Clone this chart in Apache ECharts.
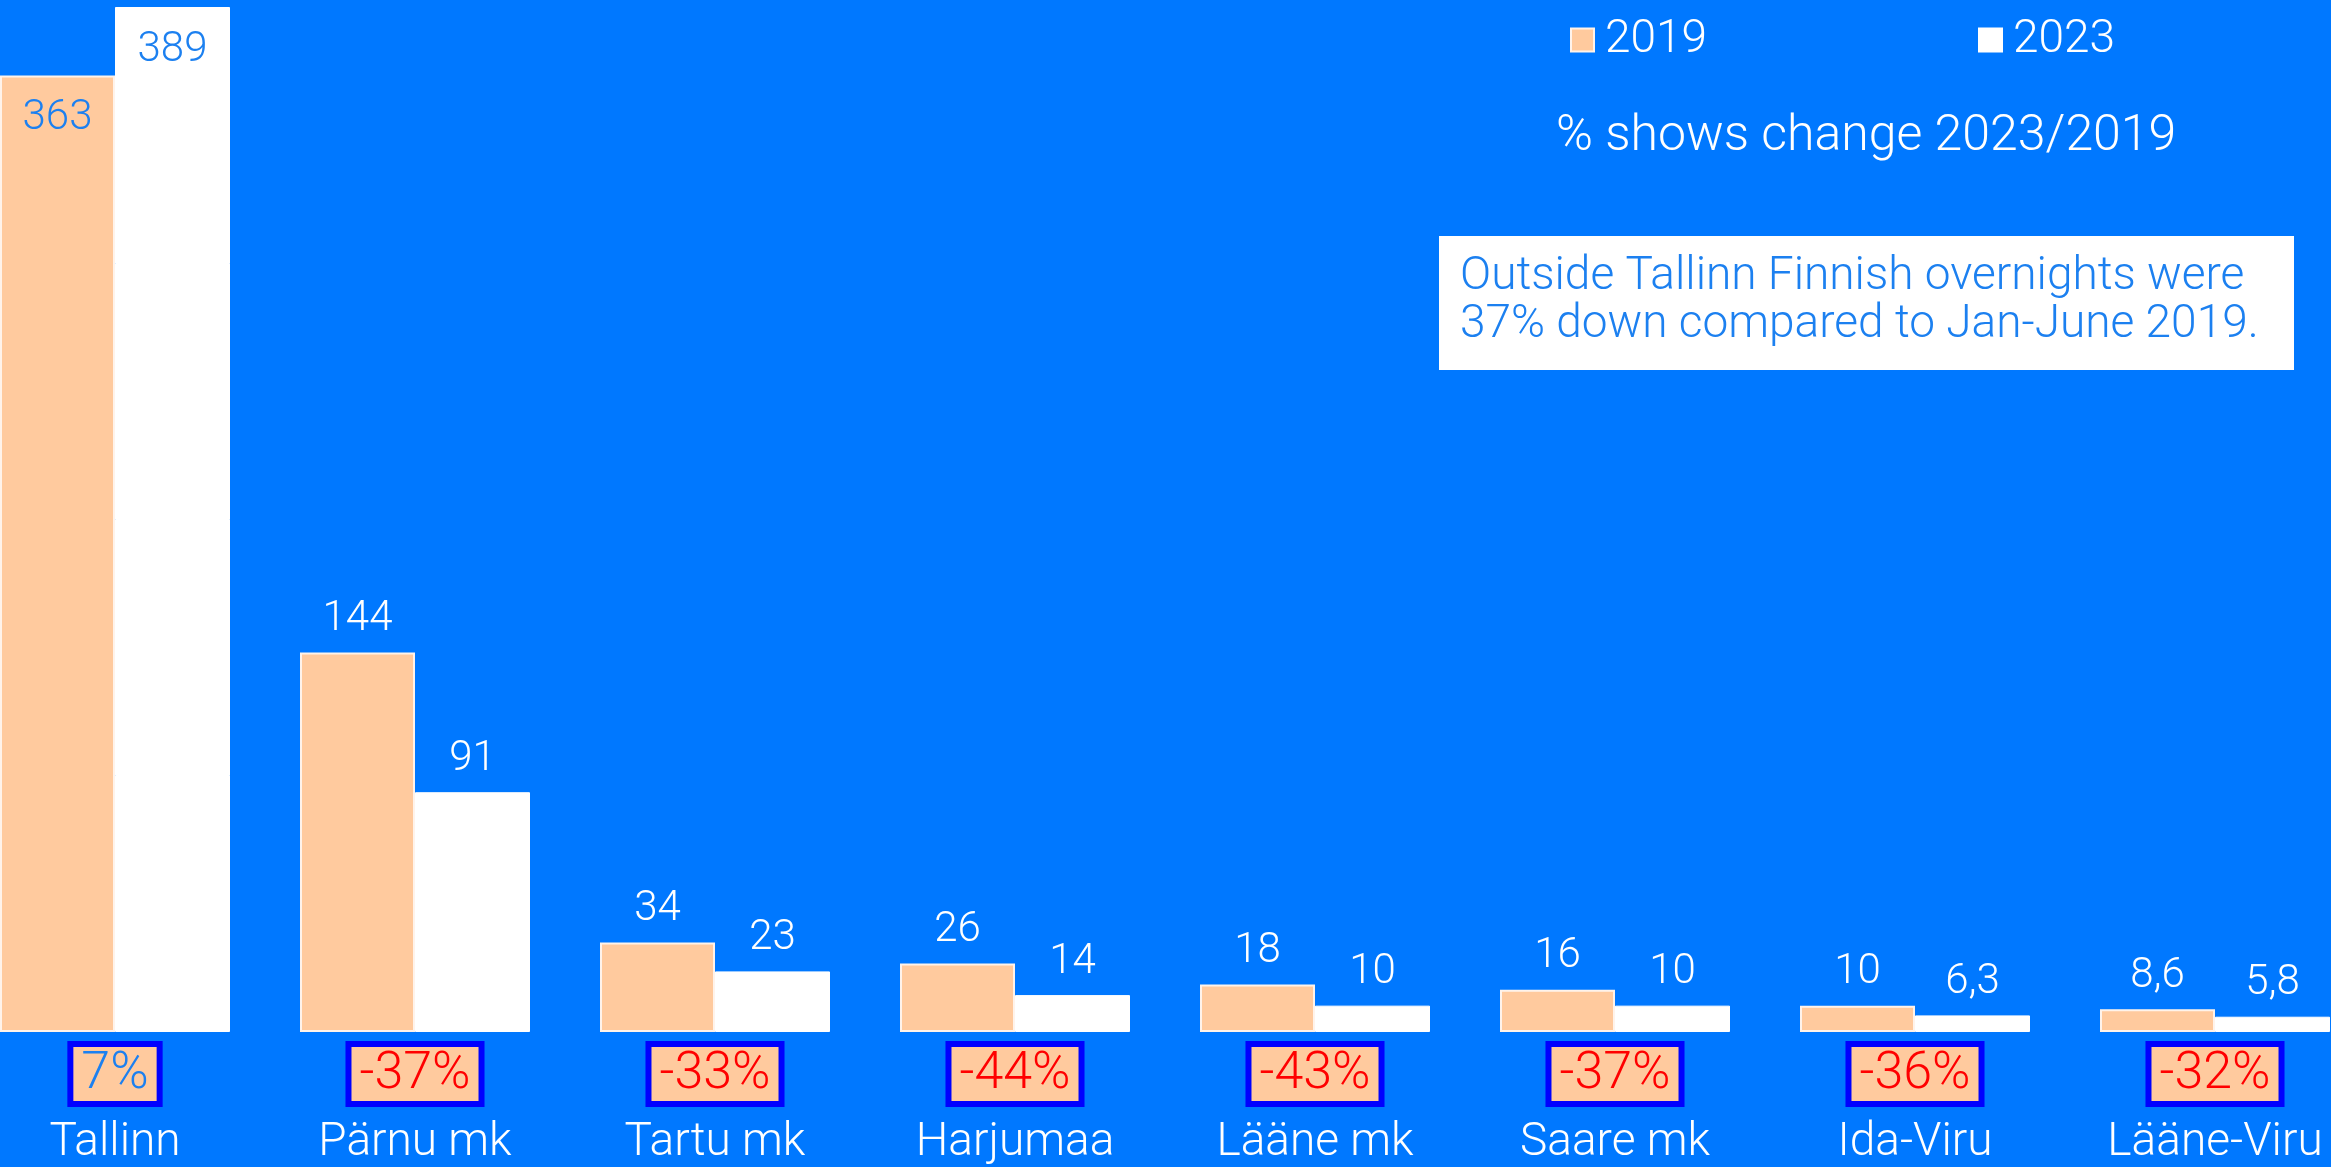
<!DOCTYPE html>
<html>
<head>
<meta charset="utf-8">
<script src="https://cdn.jsdelivr.net/npm/echarts@6/dist/echarts.min.js"></script>
<style>
html,body{margin:0;padding:0;background:#0078FF;overflow:hidden;width:2331px;height:1167px;position:relative;}
#chart{position:absolute;left:-35px;top:0;width:2400px;height:1167px;}
</style>
</head>
<body>
<div id="chart"></div>
<script>
const categories = ['Tallinn', 'Pärnu mk', 'Tartu mk', 'Harjumaa', 'Lääne mk', 'Saare mk', 'Ida-Viru', 'Lääne-Viru'];
const values2019 = [363, 144, 34, 26, 18, 16, 10, 8.6];
const values2023 = [389, 91, 23, 14, 10, 10, 6.3, 5.8];
const changePct = [7, -37, -33, -44, -43, -37, -36, -32];
const seriesNames = ['2019', '2023'];
const noteText = '% shows change 2023/2019';
const boxText = ['Outside Tallinn Finnish overnights were', '37% down compared to Jan-June 2019.'];

const FONT = 'Roboto';
const BG = '#0078FF';
const PEACH = '#FFCA9E';
const LABEL_BLUE = '#1C80F0';
const OFF = 35; // chart canvas is shifted left by this many px

const fmt = v => String(v).replace('.', ',');

function mkData(vals) {
  return vals.map((v, i) => {
    if (i === 0) {
      return { value: v, label: { position: 'insideTop', distance: 22, color: LABEL_BLUE } };
    }
    return { value: v };
  });
}

const chart = echarts.init(document.getElementById('chart'));
const baseLabel = {
  show: true, position: 'top', distance: 12, color: '#fff',
  fontFamily: FONT, fontWeight: 300, fontSize: 42,
  formatter: p => fmt(p.value)
};
const boxStyle = {
  backgroundColor: PEACH, borderColor: '#0000FF', borderWidth: 6,
  fontSize: 52, fontFamily: FONT, fontWeight: 300,
  lineHeight: 52, padding: [2, 8, 0, 8]
};

chart.setOption({
  backgroundColor: BG,
  animation: false,
  grid: { left: 0, right: 0, top: 7, bottom: 135, containLabel: false },
  legend: [
    { data: [seriesNames[0]], left: 1565 + OFF, top: 12, icon: 'rect', itemWidth: 23, itemHeight: 23,
      textStyle: { color: '#fff', fontSize: 46, fontFamily: FONT, fontWeight: 300, padding: [0, 0, 0, 6] } },
    { data: [seriesNames[1]], left: 1973 + OFF, top: 12, icon: 'rect', itemWidth: 23, itemHeight: 23,
      textStyle: { color: '#fff', fontSize: 46, fontFamily: FONT, fontWeight: 300, padding: [0, 0, 0, 6] } }
  ],
  xAxis: {
    type: 'category', data: categories,
    axisLine: { show: false }, axisTick: { show: false }, splitLine: { show: false },
    axisLabel: {
      interval: 0, margin: 16,
      formatter: (val, idx) => {
        const p = changePct[idx];
        const style = p >= 0 ? 'pos' : 'neg';
        return '{' + style + '|' + p + '%}\n{name|' + val + '}';
      },
      rich: {
        neg: Object.assign({}, boxStyle, { color: '#FF0000' }),
        pos: Object.assign({}, boxStyle, { color: LABEL_BLUE }),
        name: { color: '#fff', fontSize: 46, fontFamily: FONT, fontWeight: 300, lineHeight: 86 }
      }
    }
  },
  yAxis: { type: 'value', min: 0, max: 389, show: false, splitLine: { show: false } },
  series: [
    { name: seriesNames[0], type: 'bar', data: mkData(values2019), barWidth: 115, barGap: '0%',
      itemStyle: { color: PEACH, borderColor: '#FFF3EA', borderWidth: 2 }, label: baseLabel },
    { name: seriesNames[1], type: 'bar', data: mkData(values2023), barWidth: 115, barGap: '0%',
      itemStyle: { color: '#FFFFFF', borderColor: '#FFFFFF', borderWidth: 1 }, label: baseLabel }
  ],
  graphic: [
    { type: 'text', left: 1556 + OFF, top: 112,
      style: { text: noteText, fill: '#fff', fontSize: 50, fontFamily: FONT, fontWeight: 300 } },
    { type: 'rect', shape: { x: 1439 + OFF, y: 236, width: 855, height: 134 }, style: { fill: '#FFFFFF' } },
    { type: 'text', left: 1460 + OFF, top: 253,
      style: { text: boxText.join('\n'), fill: LABEL_BLUE, fontSize: 46, lineHeight: 48, fontFamily: FONT, fontWeight: 300 } }
  ]
});
</script>
</body>
</html>
